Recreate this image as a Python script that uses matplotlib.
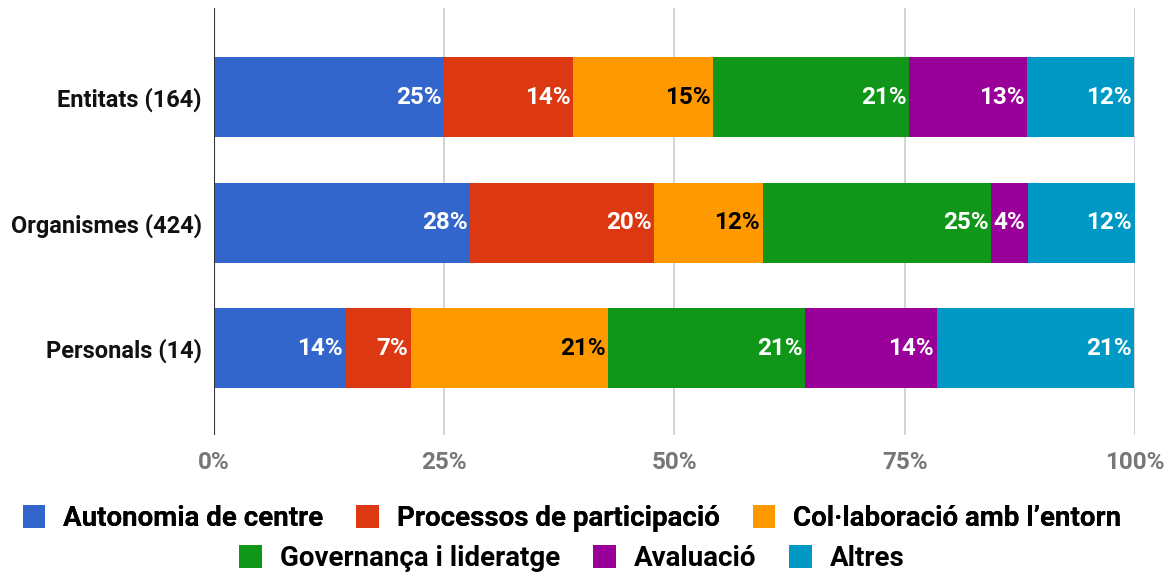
"""Stacked 100% bar chart of proposal categories."""
import matplotlib.pyplot as plt
from matplotlib.patches import Patch

plt.rcParams['font.family'] = ['Roboto', 'DejaVu Sans']

# data
grups = ["Entitats (164)", "Organismes (424)", "Personals (14)"]
categories = ["Autonomia de centre", "Processos de participació",
              "Col·laboració amb l’entorn", "Governança i lideratge",
              "Avaluació", "Altres"]
# percentage of each group, one list per category
autonomia = [25.0, 27.8, 14.3]
processos = [14.0, 20.0, 7.1]
collaboracio = [15.2, 11.8, 21.4]
governanca = [21.3, 24.8, 21.4]
avaluacio = [12.8, 4.0, 14.3]
altres = [11.6, 11.6, 21.4]
series = [autonomia, processos, collaboracio, governanca, avaluacio, altres]

colors = ["#3366CC", "#DC3912", "#FF9900", "#109618", "#990099", "#0099C6"]
label_colors = ["white", "white", "black", "white", "white", "white"]
xticks = [0, 25, 50, 75, 100]

fig = plt.figure(figsize=(11.72, 5.79), dpi=100)
ax = fig.add_axes([0.1826, 0.249, 0.7858, 0.737])

ypos = list(range(len(grups)))
left = [0.0] * len(grups)
for vals, col, lcol in zip(series, colors, label_colors):
    bars = ax.barh(ypos, vals, left=left, height=0.635, color=col,
                   edgecolor="none", zorder=2)
    for y, l, v in zip(ypos, left, vals):
        ax.annotate(f"{round(v)}%", xy=(l + v, y), xytext=(-2, 0),
                    textcoords="offset points", ha="right", va="center",
                    fontsize=17.5, fontweight="bold", color=lcol, zorder=3)
    left = [a + b for a, b in zip(left, vals)]

ax.set_xlim(0, 100)
ax.set_ylim(2.69, -0.71)
ax.set_yticks(ypos)
ax.set_yticklabels(grups, fontsize=17, fontweight="bold", color="#111111")
ax.set_xticks(xticks)
ax.set_xticklabels([f"{t}%" for t in xticks], fontsize=17.5,
                   fontweight="bold", color="#777777")
ax.tick_params(length=0, pad=12, axis="x")
ax.tick_params(length=0, pad=9, axis="y")
for t in xticks[1:]:
    ax.axvline(t, color="#cccccc", lw=1.2, zorder=1)
for s in ax.spines.values():
    s.set_visible(False)
ax.axvline(0, color="#333333", lw=1.5, zorder=4)

handles = [Patch(facecolor=c, edgecolor="none") for c in colors]
leg_kw = dict(frameon=False, handlelength=0.8, handleheight=0.9,
              handletextpad=0.65, columnspacing=1.2,
              prop={"size": 20, "weight": "bold"})
leg1 = fig.legend(handles[:3], categories[:3], ncol=3, loc="center",
                  bbox_to_anchor=(0.488, 0.105), **leg_kw)
fig.add_artist(leg1)
fig.legend(handles[3:], categories[3:], ncol=3, loc="center",
           bbox_to_anchor=(0.488, 0.036), **leg_kw)

plt.savefig("out.png", dpi=100)
